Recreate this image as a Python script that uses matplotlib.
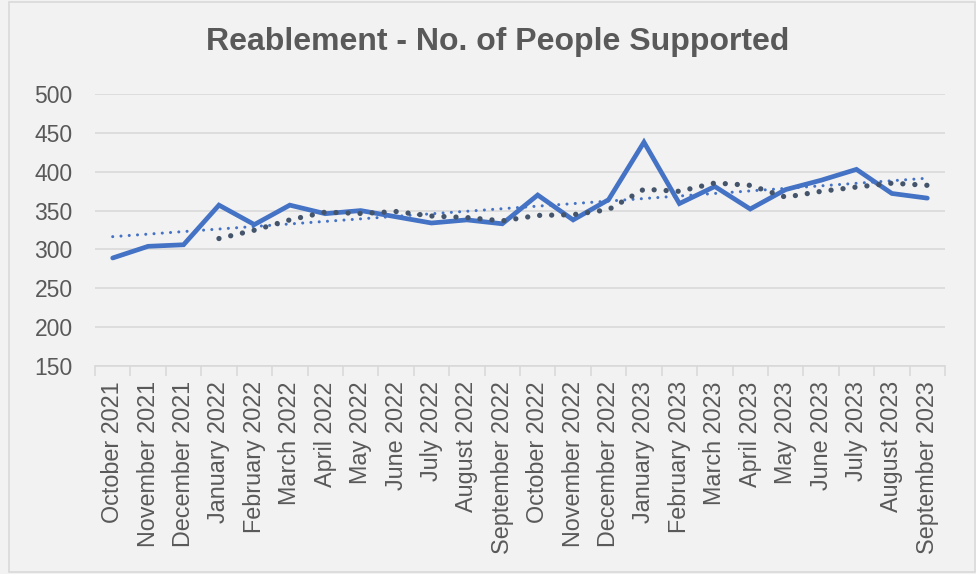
import numpy as np
import matplotlib
matplotlib.use("Agg")
import matplotlib.pyplot as plt
from matplotlib.patches import Rectangle

plt.rcParams['font.family'] = ['Liberation Sans', 'DejaVu Sans']

# Data
months = ["October 2021", "November 2021", "December 2021", "January 2022",
          "February 2022", "March 2022", "April 2022", "May 2022", "June 2022",
          "July 2022", "August 2022", "September 2022", "October 2022",
          "November 2022", "December 2022", "January 2023", "February 2023",
          "March 2023", "April 2023", "May 2023", "June 2023", "July 2023",
          "August 2023", "September 2023"]
people = [289, 304, 306, 357, 332, 357, 346, 350, 342, 334, 338, 333,
          370, 338, 364, 438, 359, 381, 352, 377, 389, 403, 372, 366]

blue = "#4472C4"
dark = "#44546A"
grid = "#D9D9D9"
text = "#595959"

x = np.arange(len(people))
y = np.array(people, dtype=float)

# Excel-style trendlines: linear fit and 4 period moving average
coef = np.polyfit(x, y, 1)
trend = np.polyval(coef, x)
ma = np.convolve(y, np.ones(4) / 4, mode="valid")
ma_x = x[3:]

fig = plt.figure(figsize=(9.76, 5.74), dpi=100, facecolor="#F2F2F2")
ax = fig.add_axes([95 / 976, 1 - 366 / 574, 850 / 976, 272 / 574])
ax.set_facecolor("#F2F2F2")

# chart border
fig.patches.append(Rectangle((9 / 976, 2 / 574), 966 / 976, 570 / 574,
                             transform=fig.transFigure, fill=False,
                             edgecolor=grid, linewidth=1.2))

ax.plot(x, y, color=blue, linewidth=3.4, solid_capstyle="round",
        solid_joinstyle="miter", zorder=3)
ax.plot(x, trend, color=blue, linewidth=2.2, linestyle=(0, (0.01, 2.7)),
        dash_capstyle="round", zorder=4)
ax.plot(ma_x, ma, color=dark, linewidth=3.8, linestyle=(0, (0.01, 2.27)),
        dash_capstyle="round", zorder=5)

ax.set_xlim(-0.5, len(people) - 0.5)
ax.set_ylim(150, 500)
ax.set_yticks(np.arange(150, 501, 50))
ax.yaxis.grid(True, color=grid, linewidth=1.2)
ax.set_axisbelow(True)

ax.set_xticks(x)
ax.set_xticklabels(months, rotation=90, fontsize=16.8, color=text)
ax.set_xticks(np.arange(-0.5, len(people), 1), minor=True)
ax.tick_params(axis="x", which="major", length=0, pad=11)
ax.tick_params(axis="x", which="minor", length=7, color=grid, width=1.2)
ax.tick_params(axis="y", length=0, labelsize=16.5, labelcolor=text, pad=16)

for s in ["top", "right", "left"]:
    ax.spines[s].set_visible(False)
ax.spines["bottom"].set_color(grid)
ax.spines["bottom"].set_linewidth(1.2)

fig.text(498 / 976, 1 - 42 / 574, "Reablement - No. of People Supported",
         ha="center", va="center", fontsize=23, fontweight="bold", color=text)

fig.savefig("out.png", dpi=100, facecolor=fig.get_facecolor())
